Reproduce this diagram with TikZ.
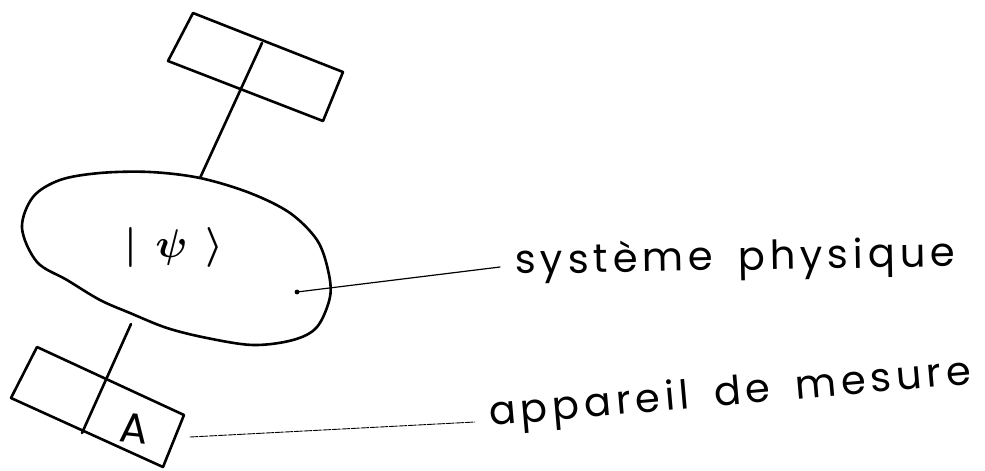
\documentclass[tikz,border=0pt]{standalone}
\usepackage{fontspec}
\setmainfont{Poppins}
\newfontfamily\handfont[LetterSpace=12,WordSpace=1.6]{Poppins}
\begin{document}
\begin{tikzpicture}[x=1pt,y=-1pt,line cap=round,line join=round,
  stroke/.style={line width=2.6pt},
  leader/.style={line width=1.2pt},
  lbl/.style={font=\handfont\fontsize{40}{48}\selectfont,inner sep=0pt}]
\useasboundingbox (0,0) rectangle (985,471);
% top box
\coordinate (t1) at (193,13);
\coordinate (t2) at (343,72);
\coordinate (t3) at (323,121);
\coordinate (t4) at (168,61);
\coordinate (tdiv) at (262,43);
\draw[stroke] (t1) -- (t2) -- (t3) -- (t4) -- cycle;
% physical system
\draw[stroke] plot[smooth cycle,tension=0.55] coordinates {
 (22,228) (33,197) (60,180) (100,173) (150,172) (200,178) (250,193)
 (290,213) (317,240) (328,270) (330,297) (317,327) (293,340) (253,345)
 (207,338) (167,328) (130,313) (100,300) (67,280) (37,262)};
\coordinate (etop) at (200,178);
\coordinate (ebot) at (131,324);
\node[inner sep=0pt] (psi) at (174,247) {\scalebox{4}{\boldmath$|\mkern7mu\psi\mkern7mu\rangle$}};
\fill (297,292) circle (2.4pt) coordinate (dot);
% bottom box
\coordinate (b1) at (37,347);
\coordinate (b2) at (184,415);
\coordinate (b3) at (163,467);
\coordinate (b4) at (11,398);
\coordinate (bdiv) at (82,433);
\draw[stroke] (b1) -- (b2) -- (b3) -- (b4) -- cycle;
\node[inner sep=0pt,font=\fontsize{42}{48}\selectfont,rotate=-6] (A) at (134,429) {A};
% connectors
\draw[stroke] (tdiv) -- (etop);
\draw[stroke] (ebot) -- (bdiv);
% labels
\node[lbl,anchor=base west,rotate=1] (sys) at (515,274) {système physique};
\node[lbl,anchor=base west,rotate=5] (app) at (490,426) {appareil de mesure};
\coordinate (sysend) at (500,267);
\coordinate (append) at (475,422);
\coordinate (Aend) at (190,437);
\draw[leader] (dot) -- (sysend);
\draw[line width=0.9pt,dash pattern=on 8pt off 1.5pt] (Aend) -- (append);
\end{tikzpicture}
\end{document}
